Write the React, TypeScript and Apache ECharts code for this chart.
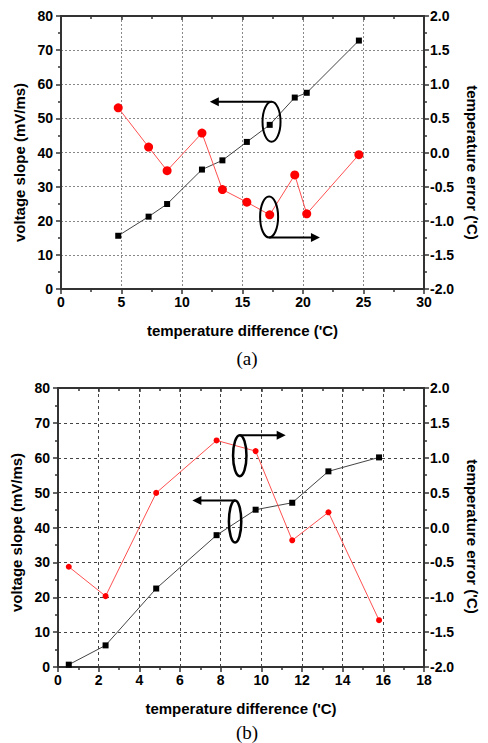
import React, { useEffect, useRef } from "react";
import * as echarts from "echarts";

// ---- data ----
const topTempDiff = [4.73, 7.24, 8.77, 11.65, 13.34, 15.36, 17.25, 19.32, 20.31, 24.62];
const topVoltageSlope = [15.6, 21.2, 24.9, 35.0, 37.7, 43.1, 48.1, 56.1, 57.5, 72.8];
const topTempError = [0.655, 0.08, -0.266, 0.285, -0.543, -0.728, -0.913, -0.329, -0.899, -0.032];

const botTempDiff = [0.53, 2.34, 4.83, 7.8, 9.72, 11.52, 13.3, 15.79];
const botVoltageSlope = [0.67, 6.2, 22.5, 37.8, 45.1, 47.1, 56.1, 60.1];
const botTempError = [-0.563, -0.984, 0.496, 1.248, 1.095, -0.184, 0.218, -1.329];

const xTitle = "temperature difference ('C)";
const leftTitle = "voltage slope (mV/ms)";
const rightTitle = "temperature error ('C)";
const panelLabels = ["(a)", "(b)"];

// annotation anchors in data space: [panel, cx, cy, rx, ry, from, tipX]
const annotations: [number, number, number, number, number, "top" | "bottom", number][] = [
  [0, 17.4, 49.0, 9, 20, "top", 12.3],
  [0, 17.2, 21.1, 9, 20.5, "bottom", 21.4],
  [1, 8.94, 60.6, 6.7, 20.5, "top", 11.2],
  [1, 8.71, 41.7, 6.2, 21, "top", 6.61],
];

const FONT = "'Liberation Sans', Arial, sans-serif";
const AX = "#333";
const tickFont = { fontFamily: FONT, fontWeight: "bold" as const, fontSize: 14, color: "#000" };
const nameFont = { fontFamily: FONT, fontWeight: "bold" as const, fontSize: 15, color: "#000" };

const zip = (a: number[], b: number[]) => a.map((v, i) => [v, b[i]]);

function gridLine(panel: number) {
  return panel === 0
    ? { show: true, lineStyle: { color: "#888", type: [2, 2], width: 1 } }
    : { show: true, lineStyle: { color: "#444", type: [3, 3], width: 1 } };
}

function xAxisMain(gridIndex: number, max: number, interval: number) {
  return {
    type: "value",
    gridIndex,
    min: 0,
    max,
    interval,
    position: "bottom",
    name: xTitle,
    nameLocation: "middle",
    nameGap: 34,
    nameTextStyle: nameFont,
    axisLine: { show: true, onZero: false, lineStyle: { color: AX, width: 2 } },
    axisTick: { show: true, inside: false, length: 5, lineStyle: { color: AX, width: 1.5 } },
    minorTick: { show: true, splitNumber: 2, length: 3, lineStyle: { color: AX, width: 1.5 } },
    axisLabel: { ...tickFont, margin: 6 },
    splitLine: gridLine(gridIndex),
  };
}
function xAxisTop(gridIndex: number, max: number, interval: number) {
  return {
    type: "value",
    gridIndex,
    min: 0,
    max,
    interval,
    position: "top",
    axisLine: { show: true, onZero: false, lineStyle: { color: AX, width: 2 } },
    axisTick: { show: true, inside: true, length: 4, lineStyle: { color: AX, width: 1.5 } },
    minorTick: { show: true, splitNumber: 2, length: 3, lineStyle: { color: AX, width: 1.5 } },
    axisLabel: { show: false },
    splitLine: { show: false },
  };
}
function yLeft(gridIndex: number) {
  return {
    type: "value",
    gridIndex,
    min: 0,
    max: 80,
    interval: 10,
    position: "left",
    name: leftTitle,
    nameLocation: "middle",
    nameGap: 34,
    nameTextStyle: { ...nameFont, padding: [0, gridIndex === 0 ? 20 : 10, 0, 0] },
    axisLine: { show: true, onZero: false, lineStyle: { color: AX, width: 2 } },
    axisTick: { show: true, inside: false, length: 5, lineStyle: { color: AX, width: 1.5 } },
    minorTick: { show: true, splitNumber: 2, length: 3, lineStyle: { color: AX, width: 1.5 } },
    axisLabel: { ...tickFont, margin: 8 },
    splitLine: gridLine(gridIndex),
  };
}
function yRight(gridIndex: number) {
  return {
    type: "value",
    gridIndex,
    min: -2,
    max: 2,
    interval: 0.5,
    position: "right",
    name: rightTitle,
    nameLocation: "middle",
    nameRotate: -90,
    nameGap: 40,
    nameTextStyle: { ...nameFont, padding: [0, 0, 0, gridIndex === 0 ? 20 : 18] },
    axisLine: { show: true, onZero: false, lineStyle: { color: AX, width: 2 } },
    axisTick: { show: true, inside: false, length: 5, lineStyle: { color: AX, width: 1.5 } },
    minorTick: { show: true, splitNumber: 2, length: 3, lineStyle: { color: AX, width: 1.5 } },
    axisLabel: { ...tickFont, margin: 6, formatter: (v: number) => v.toFixed(1) },
    splitLine: { show: false },
  };
}

export default function App() {
  const ref = useRef<HTMLDivElement>(null);
  useEffect(() => {
    if (!ref.current) return;
    const chart = echarts.init(ref.current, undefined, { renderer: "svg" });
    const blackLine = { color: "#444", width: 1 };
    const redLine = { color: "#ff5050", width: 1 };
    chart.setOption({
      animation: false,
      backgroundColor: "#fff",
      grid: [
        { left: 61, top: 16, width: 371, height: 273 },
        { left: 58, top: 388, width: 374, height: 279 },
      ],
      xAxis: [xAxisMain(0, 30, 5), xAxisMain(1, 18, 2), xAxisTop(0, 30, 5), xAxisTop(1, 18, 2)],
      yAxis: [yLeft(0), yRight(0), yLeft(1), yRight(1)],
      series: [
        {
          type: "line", xAxisIndex: 0, yAxisIndex: 0, data: zip(topTempDiff, topVoltageSlope),
          symbol: "rect", symbolSize: 6, lineStyle: blackLine, itemStyle: { color: "#000" }, z: 3,
        },
        {
          type: "line", xAxisIndex: 0, yAxisIndex: 1, data: zip(topTempDiff, topTempError),
          symbol: "circle", symbolSize: 9, lineStyle: redLine, itemStyle: { color: "#ff0000" }, z: 3,
        },
        {
          type: "line", xAxisIndex: 1, yAxisIndex: 2, data: zip(botTempDiff, botVoltageSlope),
          symbol: "rect", symbolSize: 6, lineStyle: blackLine, itemStyle: { color: "#000" }, z: 3,
        },
        {
          type: "line", xAxisIndex: 1, yAxisIndex: 3, data: zip(botTempDiff, botTempError),
          symbol: "circle", symbolSize: 6, lineStyle: redLine, itemStyle: { color: "#ff0000" }, z: 3,
        },
      ],
    });

    const elems: any[] = [];
    annotations.forEach(([panel, cx, cy, rx, ry, from, tipX]) => {
      const finder = { xAxisIndex: panel, yAxisIndex: panel === 0 ? 0 : 2 };
      const c = chart.convertToPixel(finder, [cx, cy]) as number[];
      const t = chart.convertToPixel(finder, [tipX, cy]) as number[];
      const ly = from === "top" ? c[1] - ry : c[1] + ry;
      const tx = t[0];
      const dir = tx < c[0] ? -1 : 1;
      const lw = panel === 0 ? 2 : 2.5;
      elems.push({
        type: "ellipse",
        shape: { cx: c[0], cy: c[1], rx, ry },
        style: { fill: "none", stroke: "#000", lineWidth: lw },
        z: 10,
      });
      elems.push({
        type: "line",
        shape: { x1: c[0], y1: ly, x2: tx - dir * 6, y2: ly },
        style: { stroke: "#000", lineWidth: 2 },
        z: 10,
      });
      elems.push({
        type: "polygon",
        shape: { points: [[tx, ly], [tx - dir * 9, ly - 4.5], [tx - dir * 9, ly + 4.5]] },
        style: { fill: "#000" },
        z: 10,
      });
    });
    panelLabels.forEach((lab, i) => {
      elems.push({
        type: "text",
        x: 247,
        y: i === 0 ? 358 : 732,
        style: {
          text: lab,
          font: "19px 'Liberation Serif', 'Times New Roman', serif",
          fill: "#000",
          align: "center",
          verticalAlign: "middle",
        },
      });
    });
    chart.setOption({ graphic: elems });
    return () => chart.dispose();
  }, []);
  return (
    <div
      ref={ref}
      style={{ position: "absolute", left: 0, top: 0, width: 488, height: 743, background: "#fff" }}
    />
  );
}
